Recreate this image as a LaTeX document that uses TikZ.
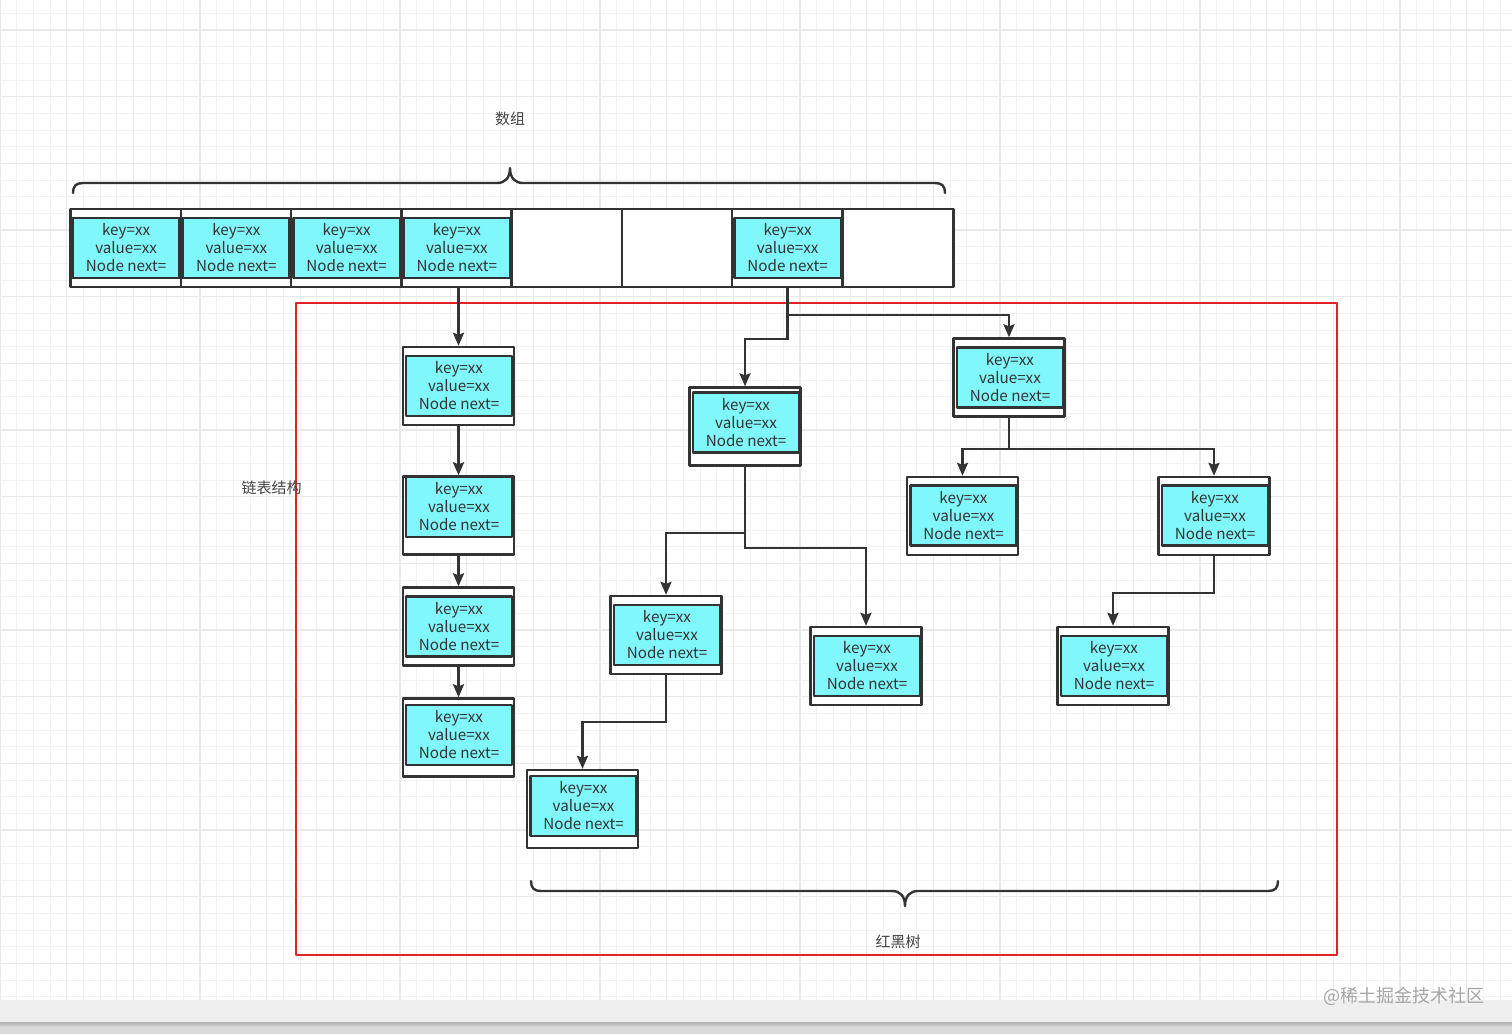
\documentclass[tikz,border=0pt]{standalone}
\usepackage{fontspec}
\setmainfont{Noto Sans CJK SC}
\usetikzlibrary{arrows.meta}
\definecolor{MapInk}{RGB}{51,51,51}
\definecolor{MapCyan}{RGB}{128,247,250}
\definecolor{MapRed}{RGB}{226,35,35}
\definecolor{MapGridMinor}{RGB}{242,242,242}
\definecolor{MapGridMajor}{RGB}{233,233,233}
\definecolor{MapText}{RGB}{68,68,68}
\definecolor{MapMark}{RGB}{165,165,165}
\definecolor{MapStrip}{RGB}{239,239,239}
\definecolor{MapShade}{RGB}{218,218,218}

\begin{document}
\begin{tikzpicture}[x=1pt,y=-1pt,line cap=round,line join=round]
  \path[use as bounding box] (0,0) rectangle (1512,1034);
  \fill[white] (0,0) rectangle (1512,1034);

  \tikzset{
    gridminor/.style={draw=MapGridMinor,line width=1pt},
    gridmajor/.style={draw=MapGridMajor,line width=1.2pt},
    slot/.style={draw=MapInk,line width=2.4pt,fill=white,
      minimum width=111pt,minimum height=78pt,inner sep=0pt},
    entry/.style={draw=MapInk,line width=2.8pt,fill=MapCyan,
      minimum width=106pt,minimum height=60pt,inner sep=0pt,align=center,
      text=MapInk,font=\fontsize{15.2pt}{18pt}\selectfont},
    link/.style={-{Stealth[length=13pt,width=11pt,inset=2pt]},
      line width=2.4pt,draw=MapInk,line join=miter},
    bracket/.style={draw=MapInk,line width=2.4pt},
    caption/.style={inner sep=0pt,text=MapText,
      font=\fontsize{15pt}{15pt}\selectfont},
  }

  % ==================== Background grid ====================
  \foreach \k in {0,...,90} {
    \draw[gridminor] ({16.667*\k},0) -- ({16.667*\k},1000);
  }
  \foreach \k in {0,...,59} {
    \draw[gridminor] (0,{13.333+16.667*\k}) -- (1512,{13.333+16.667*\k});
  }
  \foreach \k in {0,...,22} {
    \draw[gridmajor] ({66.667*\k},0) -- ({66.667*\k},1000);
  }
  \foreach \k in {0,...,14} {
    \draw[gridmajor] (0,{30+66.667*\k}) -- (1512,{30+66.667*\k});
  }

  % Bottom strip
  \fill[MapStrip] (0,1000) rectangle (1512,1022);
  \shade[top color=black!30,bottom color=MapShade] (0,1022) rectangle (1512,1027);
  \fill[MapShade] (0,1027) rectangle (1512,1034);

  % ==================== Red frame ====================
  \draw[MapRed,line width=2.2pt] (296,303) rectangle (1337,955);

  % ==================== Array ====================
  \node[caption] (arrayLabel) at (510,119) {数组};
  \draw[bracket] (73,193) .. controls (73,186) and (76,183) .. (83,183) -- (497,183)
    .. controls (505,183) and (510,178) .. (510,168)
    .. controls (510,178) and (515,183) .. (523,183) -- (935,183)
    .. controls (942,183) and (945,186) .. (945,193);

  \foreach \i in {1,...,8} {
    \node[slot] (cell\i) at ({126.125+110.25*(\i-1)},248) {};
  }
  \foreach \i in {1,2,3,4,7} {
    \node[entry,minimum width=107pt] (cell\i-entry) at (cell\i) {key=xx\\value=xx\\Node next=};
  }

  % ==================== Linked list ====================
  \node[caption] (listLabel) at (271.5,488) {链表结构};

  \foreach \n/\y/\yin in {chain1/386/386,chain2/515.5/507,chain3/626.5/626.5,chain4/737.5/735} {
    \node[slot] (\n) at (458.5,\y) {};
    \node[entry] (\n-entry) at (459,\yin) {key=xx\\value=xx\\Node next=};
  }

  \draw[link] (chain1.north |- cell4.south) -- (chain1.north);
  \draw[link] (chain1.south) -- (chain2.north);
  \draw[link] (chain2.south) -- (chain3.north);
  \draw[link] (chain3.south) -- (chain4.north);

  % ==================== Red-black tree ====================
  \foreach \n/\x/\y/\yin in {treeA/745/426.5/422.5,treeB/1009/377.5/377.5,
      treeC/962.5/516/515.5,treeD/1214/516/515.5,treeE/666/635/635,
      treeF/866/666/666,treeG/1113/666/666,treeH/582.5/809/806} {
    \node[slot] (\n) at (\x,\y) {};
    \node[entry] (\n-entry) at (\x+1,\yin) {key=xx\\value=xx\\Node next=};
  }

  \draw[link] (cell7.south) -- ++(0,27) -| (treeB.north);
  \draw[link] (cell7.south) -- ++(0,51) -| (treeA.north);
  \draw[link] (treeA.south) -- ++(0,66) -| (treeE.north);
  \draw[link] (treeA.south) -- ++(0,81) -| (treeF.north);
  \draw[link] (treeB.south) -- ++(0,31) -| (treeC.north);
  \draw[link] (treeB.south) -- ++(0,31) -| (treeD.north);
  \draw[link] (treeD.south) -- ++(0,37) -| (treeG.north);
  \draw[link] (treeE.south) -- ++(0,47) -| (treeH.north);

  \draw[bracket] (531,881) .. controls (531,888) and (534,891) .. (541,891) -- (892,891)
    .. controls (900,891) and (905,896) .. (905,906)
    .. controls (905,896) and (910,891) .. (918,891) -- (1268,891)
    .. controls (1275,891) and (1278,888) .. (1278,881);
  \node[caption] (treeLabel) at (898,942) {红黑树};

  % Watermark
  \node[caption,text=MapMark,font=\fontsize{18pt}{18pt}\selectfont] (mark) at (1404,996) {@稀土掘金技术社区};

\end{tikzpicture}
\end{document}
